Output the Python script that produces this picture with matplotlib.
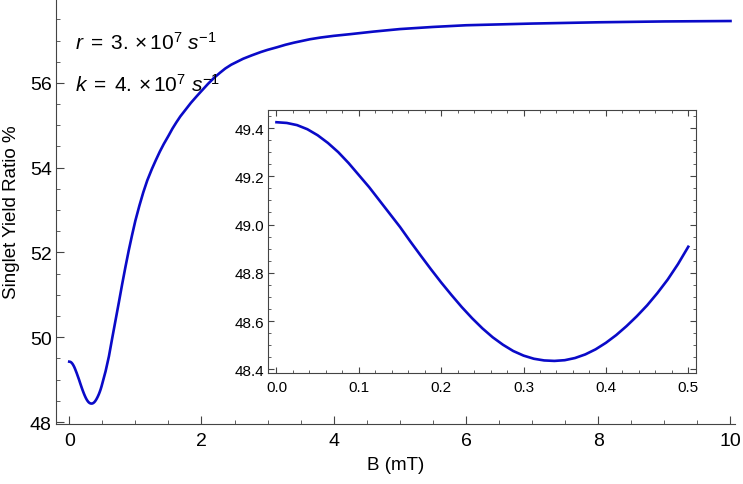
import matplotlib
matplotlib.use("Agg")
import matplotlib.pyplot as plt
from matplotlib.ticker import MultipleLocator

plt.rcParams['font.family'] = ['Liberation Sans', 'DejaVu Sans']
plt.rcParams['mathtext.fontset'] = 'custom'
plt.rcParams['mathtext.rm'] = 'Liberation Sans'
plt.rcParams['mathtext.it'] = 'Liberation Sans:italic'

# inset: low-field region
b_low = [0.0000, 0.0125, 0.0250, 0.0375, 0.0500, 0.0625, 0.0750, 0.0875, 0.1000,
         0.1125, 0.1250, 0.1375, 0.1500, 0.1625, 0.1750, 0.1875, 0.2000, 0.2125,
         0.2250, 0.2375, 0.2500, 0.2625, 0.2750, 0.2875, 0.3000, 0.3125, 0.3250,
         0.3375, 0.3500, 0.3625, 0.3750, 0.3875, 0.4000, 0.4125, 0.4250, 0.4375,
         0.4500, 0.4625, 0.4750, 0.4875, 0.5000]
y_low = [49.424, 49.421, 49.412, 49.395, 49.370, 49.338, 49.300, 49.255, 49.205,
         49.155, 49.100, 49.045, 48.990, 48.930, 48.872, 48.815, 48.760, 48.708,
         48.658, 48.612, 48.570, 48.533, 48.502, 48.476, 48.457, 48.444, 48.437,
         48.435, 48.438, 48.447, 48.462, 48.483, 48.510, 48.542, 48.579, 48.620,
         48.665, 48.716, 48.772, 48.836, 48.908]

# rest of the main curve
b_high = [0.55, 0.6, 0.65, 0.7, 0.75, 0.8, 0.85, 0.9, 0.95, 1.0, 1.06, 1.12, 1.18,
          1.25, 1.31, 1.37, 1.43, 1.5, 1.56, 1.62, 1.68, 1.75, 1.84, 1.93, 2.0,
          2.1, 2.19, 2.28, 2.36, 2.45, 2.54, 2.63, 2.76, 2.9, 3.0, 3.14, 3.27,
          3.4, 3.52, 3.64, 3.8, 4.0, 4.25, 4.6, 5.0, 5.5, 6.0, 7.0, 8.0, 9.0, 10.0]
y_high = [49.20, 49.55, 49.98, 50.40, 50.82, 51.25, 51.66, 52.05, 52.41, 52.75,
          53.10, 53.42, 53.70, 53.97, 54.18, 54.38, 54.56, 54.75, 54.92, 55.07,
          55.21, 55.35, 55.53, 55.69, 55.81, 55.98, 56.12, 56.24, 56.34, 56.43,
          56.50, 56.57, 56.65, 56.73, 56.78, 56.84, 56.90, 56.95, 56.99, 57.03,
          57.07, 57.11, 57.15, 57.21, 57.27, 57.32, 57.36, 57.40, 57.43, 57.45,
          57.46]

b_all = b_low + b_high
y_all = y_low + y_high

line_col = '#0a0ac8'
axis_col = '#444444'

fig = plt.figure(figsize=(7.43, 4.85), dpi=100)
ax = fig.add_axes([0.0754, 0.1237, 0.914, 0.876])
ax.plot(b_all, y_all, color=line_col, lw=1.9)
ax.set_xlim(-0.2, 10.07)
ax.set_ylim(47.953, 57.976)
ax.spines['top'].set_visible(False)
ax.spines['right'].set_visible(False)
for s in ('left', 'bottom'):
    ax.spines[s].set_color(axis_col)
ax.xaxis.set_major_locator(MultipleLocator(2))
ax.xaxis.set_minor_locator(MultipleLocator(0.5))
ax.yaxis.set_major_locator(MultipleLocator(2))
ax.yaxis.set_minor_locator(MultipleLocator(0.5))
ax.tick_params(which='both', direction='in', color=axis_col, labelsize=14)
ax.tick_params(which='major', length=5.5)
ax.tick_params(which='minor', length=3)
ax.tick_params(axis='x', pad=6)
ax.tick_params(axis='y', pad=3)
ax.set_xlabel('B (mT)', fontsize=13.5, labelpad=5)
ax.set_ylabel('Singlet Yield Ratio %', fontsize=13.5, labelpad=7)

ax.text(0.086, 56.96, r'$r\;=\;3.\,{\times}\,10^{7}\ s^{-1}$', fontsize=15, va='center', ha='left')
ax.text(0.086, 55.97, r'$k\;=\;4.\,{\times}\,10^{7}\ s^{-1}$', fontsize=15, va='center', ha='left')

ins = fig.add_axes([0.3607, 0.2289, 0.5756, 0.5429])
ins.plot(b_low, y_low, color=line_col, lw=1.9)
ins.set_xlim(-0.0103, 0.509)
ins.set_ylim(48.385, 49.476)
for s in ins.spines.values():
    s.set_color(axis_col)
ins.xaxis.set_major_locator(MultipleLocator(0.1))
ins.xaxis.set_minor_locator(MultipleLocator(0.02))
ins.yaxis.set_major_locator(MultipleLocator(0.2))
ins.yaxis.set_minor_locator(MultipleLocator(0.05))
ins.xaxis.set_major_formatter(plt.FormatStrFormatter('%.1f'))
ins.yaxis.set_major_formatter(plt.FormatStrFormatter('%.1f'))
ins.tick_params(which='both', direction='in', color=axis_col, labelsize=11,
                top=True, right=True)
ins.tick_params(which='major', length=4.5)
ins.tick_params(which='minor', length=2.5)
ins.tick_params(axis='x', pad=5)
ins.tick_params(axis='y', pad=3)

fig.savefig('out.png', dpi=100)
